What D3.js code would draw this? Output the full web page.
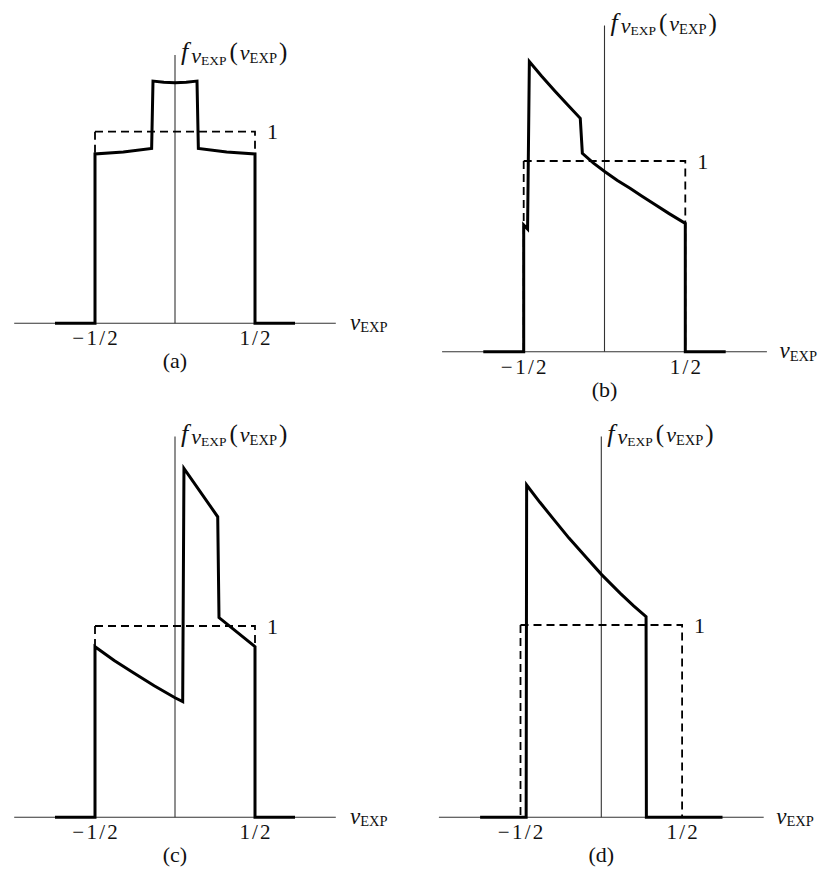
<!DOCTYPE html>
<html>
<head>
<meta charset="utf-8">
<script src="https://cdn.jsdelivr.net/npm/d3@7"></script>
<style>
  html, body { margin: 0; padding: 0; background: #fff; }
  svg { display: block; }
  svg text { font-family: "Liberation Serif", "Times New Roman", Times, serif; fill: #111; }
</style>
</head>
<body>
<script>
// Densities f(ν_EXP) drawn as thick polylines, vertices given as [ν, f].
const densityA = [
  [-0.75, 0], [-0.5, 0], [-0.5, 0.884], [-0.323, 0.894], [-0.146, 0.913],
  [-0.1375, 1.264], [-0.07, 1.258], [0, 1.256], [0.07, 1.258], [0.1375, 1.264],
  [0.146, 0.913], [0.323, 0.894], [0.5, 0.884], [0.5, 0], [0.75, 0]
];
const densityB = [
  [-0.75, 0], [-0.5, 0], [-0.5, 0.664], [-0.476, 0.643], [-0.465, 1.521],
  [-0.39, 1.446], [-0.306, 1.366], [-0.23, 1.296], [-0.15, 1.224],
  [-0.137, 1.04], [-0.07, 0.99], [0.003, 0.944], [0.08, 0.898],
  [0.158, 0.857], [0.23, 0.816], [0.3, 0.778], [0.4, 0.724], [0.5, 0.673],
  [0.5, 0], [0.75, 0]
];
const densityC = [
  [-0.75, 0], [-0.5, 0], [-0.5, 0.892], [-0.38, 0.82], [-0.26, 0.756],
  [-0.13, 0.688], [0, 0.625], [0.048, 0.605], [0.056, 1.824], [0.267, 1.571],
  [0.275, 1.044], [0.5, 0.892], [0.5, 0], [0.75, 0]
];
const densityD = [
  [-0.75, 0], [-0.465, 0], [-0.462, 1.728], [-0.38, 1.638], [-0.297, 1.552],
  [-0.2, 1.452], [-0.09, 1.348], [0.002, 1.262], [0.116, 1.166],
  [0.2, 1.1], [0.277, 1.043], [0.279, 0], [0.75, 0]
];
// Uniform density on [-1/2, 1/2] (dashed reference).
const uniformDensity = [[-0.5, 0], [-0.5, 1], [0.5, 1], [0.5, 0]];

const tickValues = [-0.5, 0.5];
const tickLabels = ["\u22121/2", "1/2"];
const levelValue = 1;
const levelLabel = "1";
const panelLabels = ["(a)", "(b)", "(c)", "(d)"];

// Placement of each small plot: origin (cx, cy), pixels per unit, top of vertical axis.
const panels = [
  { data: densityA, label: panelLabels[0], cx: 175,   cy: 323.3, sx: 160,   sy: 191.6, top: 1.40 },
  { data: densityB, label: panelLabels[1], cx: 604.5, cy: 351.7, sx: 161.6, sy: 190.7, top: 1.71 },
  { data: densityC, label: panelLabels[2], cx: 175,   cy: 817.3, sx: 160,   sy: 191.3, top: 1.99 },
  { data: densityD, label: panelLabels[3], cx: 601.3, cy: 817.3, sx: 161.6, sy: 192.3, top: 1.98 }
];

const svg = d3.select("body").append("svg")
  .attr("width", 824).attr("height", 872);

// Fraction-style label with a little air around each glyph, as in typeset math.
function spacedLabel(sel, str) {
  Array.from(str).forEach((ch, i) => {
    sel.append("tspan").attr("dx", i === 0 ? 0 : (ch === "/" || str[i - 1] === "/") ? 2.2 : 2.6).text(ch);
  });
}

panels.forEach(p => {
  const x = d3.scaleLinear().domain([-1, 1]).range([p.cx - p.sx, p.cx + p.sx]);
  const y = d3.scaleLinear().domain([0, 1]).range([p.cy, p.cy - p.sy]);
  const line = d3.line().x(d => x(d[0])).y(d => y(d[1]));
  const g = svg.append("g");

  // axes
  g.append("line")
    .attr("x1", x(-1.005)).attr("x2", x(1.005))
    .attr("y1", y(0)).attr("y2", y(0))
    .attr("stroke", "#333").attr("stroke-width", 1.1);
  g.append("line")
    .attr("x1", x(0)).attr("x2", x(0))
    .attr("y1", y(0)).attr("y2", y(p.top))
    .attr("stroke", "#333").attr("stroke-width", 1.1);

  // uniform reference, dashed: left side and top+right side drawn from the top-left corner
  const dashed = [uniformDensity.slice(0, 2).reverse(), uniformDensity.slice(1)];
  dashed.forEach(seg => {
    g.append("path")
      .attr("d", line(seg))
      .attr("fill", "none").attr("stroke", "#000")
      .attr("stroke-width", 1.8).attr("stroke-dasharray", "8,5");
  });

  // density curve
  g.append("path")
    .attr("d", line(p.data))
    .attr("fill", "none").attr("stroke", "#000")
    .attr("stroke-width", 3).attr("stroke-linejoin", "miter")
    .attr("stroke-miterlimit", 10);

  // tick labels
  g.selectAll("text.tick").data(tickValues).enter().append("text")
    .attr("class", "tick")
    .attr("x", d => x(d)).attr("y", y(0) + 22)
    .attr("text-anchor", "middle").attr("font-size", 21)
    .each(function (d, i) { spacedLabel(d3.select(this), tickLabels[i]); });

  // level label of the uniform density
  g.append("text")
    .attr("x", x(tickValues[1]) + 12).attr("y", y(levelValue) + 7.5)
    .attr("font-size", 22)
    .text(levelLabel);

  // panel letter
  g.append("text")
    .attr("x", x(0)).attr("y", y(0) + 45)
    .attr("text-anchor", "middle").attr("font-size", 22)
    .text(p.label);

  // horizontal axis title  ν_EXP
  const xt = g.append("text").attr("x", x(0) + 175).attr("y", y(0) + 6.5);
  xt.append("tspan").attr("font-style", "italic").attr("font-size", 23).text("\u03BD");
  xt.append("tspan").attr("font-size", 14.5).attr("dy", 2.5).text("EXP");

  // vertical axis title  f_{ν_EXP}(ν_EXP)
  const yt = g.append("text").attr("x", x(0) + 6).attr("y", y(p.top) + 5);
  yt.append("tspan").attr("font-style", "italic").attr("font-size", 26).text("f");
  yt.append("tspan").attr("font-style", "italic").attr("font-size", 22).attr("dy", 2.5).attr("dx", 3).text("\u03BD");
  yt.append("tspan").attr("font-size", 13.5).attr("dy", 2).text("EXP");
  yt.append("tspan").attr("font-size", 25).attr("dy", -4.5).attr("dx", 3).text("(");
  yt.append("tspan").attr("font-style", "italic").attr("font-size", 22).attr("dx", 2).text("\u03BD");
  yt.append("tspan").attr("font-size", 14.5).attr("dy", 3).text("EXP");
  yt.append("tspan").attr("font-size", 25).attr("dy", -3).attr("dx", 2).text(")");
});
</script>
</body>
</html>
